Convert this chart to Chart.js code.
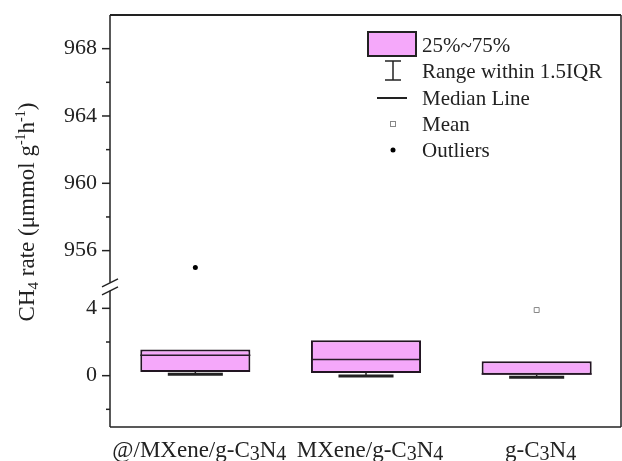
<!DOCTYPE html>
<html>
<head>
<meta charset="utf-8">
<script src="https://cdn.jsdelivr.net/npm/chart.js@4.4.0/dist/chart.umd.min.js"></script>
<style>
    html, body { margin: 0; padding: 0; background: #ffffff; }
    #wrap { width: 622px; height: 461px; }
</style>
</head>
<body>
<div id="wrap"><canvas id="boxChart" width="622" height="461"></canvas></div>
<script>
// --- Data (CH4 rate, box statistics) ---
const categories = ['@/MXene/g-C3N4', 'MXene/g-C3N4', 'g-C3N4'];
const q1Values = [0.22, 0.16, 0.05];
const medianValues = [1.22, 0.96, 0.10];
const q3Values = [1.56, 2.10, 0.86];
const whiskerLowValues = [0.15, 0.04, -0.03];
const whiskerHighValues = [1.56, 2.10, 0.86];
const meanValues = [null, null, 3.9];      // first two means fall outside the shown windows
const outlierValues = [955.0, null, null];

// broken y axis: lower and upper windows
const lowerRange = [-3.05, 5.28];
const upperRange = [953.85, 970];
const lowerTicks = [-2, 0, 2, 4];
const upperTicks = [956, 958, 960, 962, 964, 966, 968];
const labelledTicks = [0, 4, 956, 960, 964, 968];

const legendLabels = ['25%~75%', 'Range within 1.5IQR', 'Median Line', 'Mean', 'Outliers'];

const FONT = "'Liberation Serif', 'Times New Roman', serif";
const BOX_FILL = '#F5A8FA';
const INK = '#222222';

// --- little helpers for rich text (sub/superscripts) ---
function richWidth(ctx, segs) {
    let w = 0;
    segs.forEach(s => {
        ctx.font = s.size + 'px ' + FONT;
        w += ctx.measureText(s.t).width;
    });
    return w;
}

function drawRich(ctx, segs, x, y) {
    let cx = x;
    segs.forEach(s => {
        ctx.font = s.size + 'px ' + FONT;
        ctx.fillText(s.t, cx, y + (s.dy || 0));
        cx += ctx.measureText(s.t).width;
    });
}

// digits in formula labels become subscripts
function formulaSegments(text) {
    return text.split(/(\d)/).filter(p => p !== '').map(p =>
        /\d/.test(p) ? { t: p, size: 20, dy: 3 } : { t: p, size: 23 }
    );
}

function line(ctx, x1, y1, x2, y2) {
    ctx.beginPath();
    ctx.moveTo(x1, y1);
    ctx.lineTo(x2, y2);
    ctx.stroke();
}

// --- Plugin: whiskers, medians, axis frame with break, labels and legend ---
const boxPlotExtras = {
    id: 'boxPlotExtras',
    beforeDatasetsDraw(chart) {
        // whiskers go under the boxes
        const ctx = chart.ctx;
        const ys = chart.scales.y;
        const meta = chart.getDatasetMeta(0);
        ctx.save();
        ctx.strokeStyle = INK;
        meta.data.forEach((bar, i) => {
            const cx = bar.x;
            const capHalf = bar.width / 4;
            const lo = ys.getPixelForValue(whiskerLowValues[i]);
            const hi = ys.getPixelForValue(whiskerHighValues[i]);
            const q1 = ys.getPixelForValue(q1Values[i]);
            const q3 = ys.getPixelForValue(q3Values[i]);
            ctx.lineWidth = 1.5;
            line(ctx, cx, q1, cx, lo);
            line(ctx, cx, q3, cx, hi);
            ctx.lineWidth = 3;
            if (lo > q1 + 1) line(ctx, cx - capHalf, lo + 1, cx + capHalf, lo + 1);
            if (hi < q3 - 1) line(ctx, cx - capHalf, hi - 1, cx + capHalf, hi - 1);
        });
        ctx.restore();
    },
    afterDatasetsDraw(chart) {
        const ctx = chart.ctx;
        const ys = chart.scales.y;
        const meta = chart.getDatasetMeta(0);
        ctx.save();
        ctx.strokeStyle = '#2a1a2a';
        ctx.lineWidth = 1.5;
        meta.data.forEach((bar, i) => {
            const half = bar.width / 2;
            const my = ys.getPixelForValue(medianValues[i]);
            line(ctx, bar.x - half, my, bar.x + half, my);
        });
        ctx.restore();
    },
    afterDraw(chart) {
        const ctx = chart.ctx;
        const area = chart.chartArea;
        const ys = chart.scales.y;
        const ys2 = chart.scales.y2;
        const xs = chart.scales.x;
        const breakY = ys2.bottom;
        const axisX = area.left;

        ctx.save();
        ctx.strokeStyle = INK;
        ctx.lineCap = 'butt';

        // frame: top, right, bottom
        ctx.lineWidth = 2;
        line(ctx, axisX, area.top, area.right - 1, area.top);
        ctx.lineWidth = 1.5;
        line(ctx, area.right - 1, area.top, area.right - 1, area.bottom);
        line(ctx, axisX, area.bottom, area.right - 1, area.bottom);

        // left axis with break marks
        line(ctx, axisX, area.top, axisX, breakY - 4);
        line(ctx, axisX, breakY + 4, axisX, area.bottom);
        line(ctx, axisX - 8, breakY, axisX + 8, breakY - 8);
        line(ctx, axisX - 8, breakY + 8, axisX + 8, breakY);

        // tick marks (major labelled, minor short)
        lowerTicks.forEach(v => {
            const py = ys.getPixelForValue(v);
            const len = labelledTicks.includes(v) ? 8 : 4;
            line(ctx, axisX - len, py, axisX, py);
        });
        upperTicks.forEach(v => {
            const py = ys2.getPixelForValue(v);
            const len = labelledTicks.includes(v) ? 8 : 4;
            line(ctx, axisX - len, py, axisX, py);
        });

        // category labels with subscripts
        ctx.fillStyle = INK;
        ctx.textBaseline = 'alphabetic';
        ctx.textAlign = 'left';
        categories.forEach((c, i) => {
            const segs = formulaSegments(c);
            const w = richWidth(ctx, segs);
            const cx = xs.getPixelForValue(i);
            drawRich(ctx, segs, cx - w / 2 + 4, 457);
        });

        // y axis title, rotated
        const titleSegs = [
            { t: 'CH', size: 23 },
            { t: '4', size: 15, dy: 4 },
            { t: ' rate (\u03BCmmol g', size: 23 },
            { t: '-1', size: 14, dy: -9 },
            { t: 'h', size: 23 },
            { t: '-1', size: 14, dy: -9 },
            { t: ')', size: 23 }
        ];
        ctx.save();
        ctx.translate(34, 212);
        ctx.rotate(-Math.PI / 2);
        const tw = richWidth(ctx, titleSegs);
        drawRich(ctx, titleSegs, -tw / 2, 0);
        ctx.restore();

        // legend
        const lx = 393;
        const textX = 422;
        const rowY = [45, 71, 98, 124, 150];
        ctx.fillStyle = BOX_FILL;
        ctx.fillRect(368, 32, 48, 24);
        ctx.strokeStyle = INK;
        ctx.lineWidth = 2;
        ctx.strokeRect(368, 32, 48, 24);

        ctx.lineWidth = 1.5;
        line(ctx, lx, 61, lx, 80);
        line(ctx, lx - 8, 61, lx + 8, 61);
        line(ctx, lx - 8, 80, lx + 8, 80);

        ctx.lineWidth = 2;
        line(ctx, 377, rowY[2], 407, rowY[2]);

        ctx.lineWidth = 1;
        ctx.strokeStyle = '#888888';
        ctx.fillStyle = '#ffffff';
        ctx.fillRect(lx - 2.5, rowY[3] - 2.5, 5, 5);
        ctx.strokeRect(lx - 2.5, rowY[3] - 2.5, 5, 5);

        ctx.fillStyle = '#000000';
        ctx.beginPath();
        ctx.arc(lx, rowY[4], 2.5, 0, Math.PI * 2);
        ctx.fill();

        ctx.fillStyle = INK;
        ctx.font = '21px ' + FONT;
        ctx.textBaseline = 'middle';
        legendLabels.forEach((t, i) => ctx.fillText(t, textX, rowY[i] + 1));

        ctx.restore();
    }
};

const tickFont = { family: FONT, size: 22 };

function tickLabel(val) {
    return labelledTicks.includes(val) ? String(val) : '';
}

// fixed axis sizes so the plot frame sits where the reference has it
function fitYAxis(scale) {
    scale.width = 110;
    scale.paddingTop = 0;
    scale.paddingBottom = 0;
}

function fitXAxis(scale) {
    scale.height = 34;
    scale.paddingLeft = 0;
    scale.paddingRight = 0;
}

const ctxEl = document.getElementById('boxChart');
new Chart(ctxEl, {
    data: {
        labels: categories,
        datasets: [
            {
                type: 'bar',
                label: '25%~75%',
                data: categories.map((c, i) => [q1Values[i], q3Values[i]]),
                yAxisID: 'y',
                backgroundColor: BOX_FILL,
                borderColor: '#221522',
                borderWidth: 2,
                borderSkipped: false,
                barPercentage: 0.645,
                categoryPercentage: 1
            },
            {
                type: 'line',
                label: 'Mean',
                data: meanValues,
                yAxisID: 'y',
                showLine: false,
                pointStyle: 'rect',
                pointRadius: 3.5,
                pointBackgroundColor: '#ffffff',
                pointBorderColor: '#888888',
                pointBorderWidth: 1
            },
            {
                type: 'line',
                label: 'Outliers',
                data: outlierValues,
                yAxisID: 'y2',
                showLine: false,
                pointStyle: 'circle',
                pointRadius: 2.5,
                pointBackgroundColor: '#000000',
                pointBorderColor: '#000000',
                pointBorderWidth: 0
            }
        ]
    },
    options: {
        responsive: false,
        animation: false,
        devicePixelRatio: 1,
        events: [],
        layout: { autoPadding: false, padding: { top: 15, right: 0, bottom: 0, left: 0 } },
        plugins: {
            legend: { display: false },
            tooltip: { enabled: false }
        },
        scales: {
            x: {
                type: 'category',
                offset: true,
                grid: { display: false },
                border: { display: false },
                ticks: { display: false },
                afterFit: fitXAxis
            },
            y: {
                type: 'linear',
                position: 'left',
                stack: 'ybreak',
                stackWeight: lowerRange[1] - lowerRange[0],
                min: lowerRange[0],
                max: lowerRange[1],
                afterBuildTicks: scale => { scale.ticks = lowerTicks.map(v => ({ value: v })); },
                grid: { drawOnChartArea: false, color: 'rgba(0,0,0,0)', tickLength: 8 },
                border: { display: false },
                ticks: { color: INK, font: tickFont, padding: 5, autoSkip: false, callback: tickLabel },
                afterFit: fitYAxis
            },
            y2: {
                type: 'linear',
                position: 'left',
                stack: 'ybreak',
                stackWeight: upperRange[1] - upperRange[0],
                min: upperRange[0],
                max: upperRange[1],
                afterBuildTicks: scale => { scale.ticks = upperTicks.map(v => ({ value: v })); },
                grid: { drawOnChartArea: false, color: 'rgba(0,0,0,0)', tickLength: 8 },
                border: { display: false },
                ticks: { color: INK, font: tickFont, padding: 5, autoSkip: false, callback: tickLabel },
                afterFit: fitYAxis
            }
        }
    },
    plugins: [boxPlotExtras]
});
</script>
</body>
</html>
